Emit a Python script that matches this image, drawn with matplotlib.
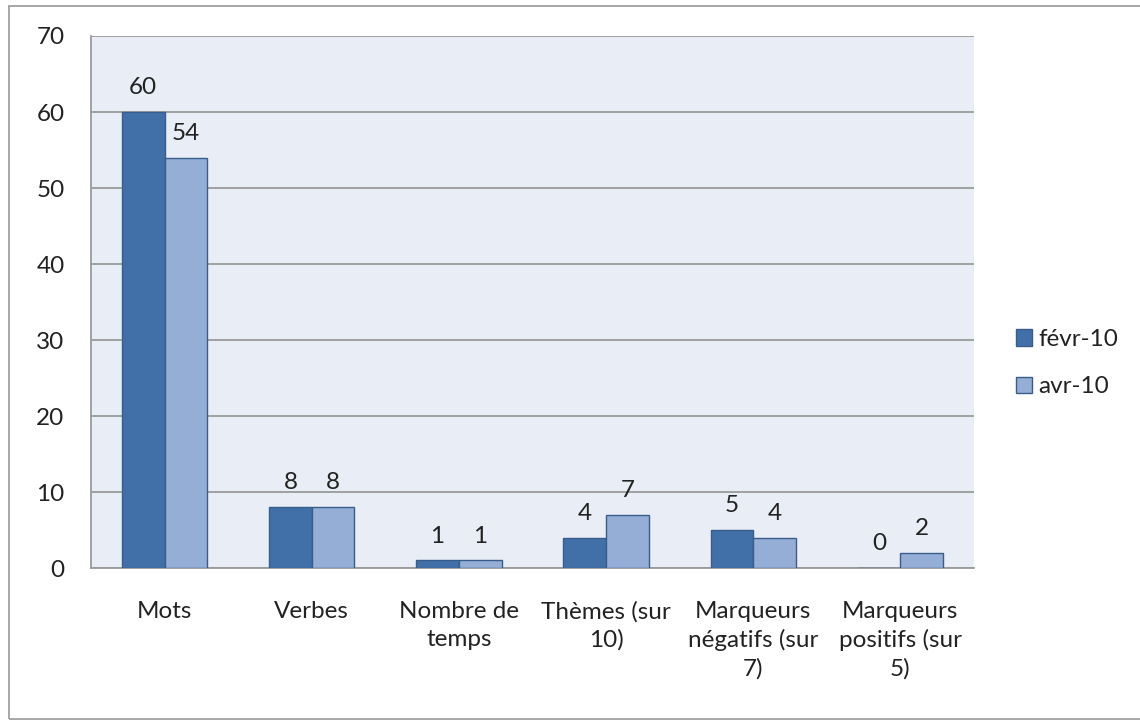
import matplotlib.pyplot as plt
import numpy as np
from matplotlib.patches import Rectangle

categories = ['Mots', 'Verbes', 'Nombre de\ntemps', 'Thèmes (sur\n10)',
              'Marqueurs\nnégatifs (sur\n7)', 'Marqueurs\npositifs (sur\n5)']
fevr = [60, 8, 1, 4, 5, 0]
avr = [54, 8, 1, 7, 4, 2]
series_names = ['févr-10', 'avr-10']

plt.rcParams['font.family'] = ['Lato', 'DejaVu Sans']

dark = '#4170A8'
light = '#95AED5'
edge = '#385D8A'
grid = '#9A9A9A'
fs = 17.5

fig = plt.figure(figsize=(11.4, 7.2), dpi=100)
# outer chart frame (right side runs off the picture)
fig.patches.append(Rectangle((0.0079, 0.0014), 1.0, 0.9903, transform=fig.transFigure,
                             fill=False, edgecolor='#A0A0A0', linewidth=1.3))
ax = fig.add_axes([0.0798, 0.2111, 0.7746, 0.7389])
ax.set_facecolor('#E9EDF5')

x = np.arange(len(categories))
w = 0.29
b1 = ax.bar(x - w / 2, fevr, w, color=dark, edgecolor=edge, linewidth=1, label=series_names[0], zorder=3)
b2 = ax.bar(x + w / 2, avr, w, color=light, edgecolor=edge, linewidth=1, label=series_names[1], zorder=3)
ax.bar_label(b1, padding=10, fontsize=fs, color='#222222')
ax.bar_label(b2, padding=10, fontsize=fs, color='#222222')

ax.set_xlim(-0.5, len(categories) - 0.5)
ax.set_ylim(0, 70)
ax.set_yticks(range(0, 71, 10))
ax.yaxis.grid(True, color=grid, linewidth=1.3, zorder=0)
ax.set_axisbelow(True)
ax.set_xticks(x)
ax.set_xticklabels(categories, fontsize=fs, linespacing=1.38, color='#222222')
ax.tick_params(axis='x', length=0, pad=24)
ax.tick_params(axis='y', length=0, labelsize=fs, pad=19, labelcolor='#222222')
for s in ['top', 'right']:
    ax.spines[s].set_visible(False)
for s in ['left', 'bottom']:
    ax.spines[s].set_color(grid)
    ax.spines[s].set_linewidth(1.3)

leg = ax.legend(loc='center left', bbox_to_anchor=(1.0476, 0.385), frameon=False, fontsize=fs,
                handlelength=0.66, handleheight=0.66, handletextpad=0.25, labelspacing=1.08,
                borderaxespad=0, borderpad=0)
for t in leg.get_texts():
    t.set_color('#222222')

fig.savefig('out.png', dpi=100)
